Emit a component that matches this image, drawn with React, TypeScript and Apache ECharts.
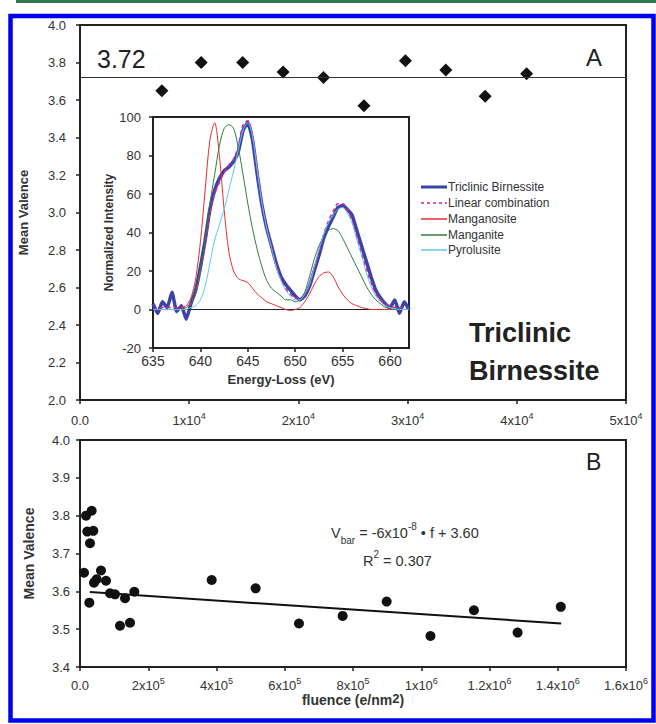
import React, { useEffect, useRef } from 'react';
import * as echarts from 'echarts';

// ---------- Panel A: mean valence vs fluence ----------
const aFluence = [7500, 11100, 14900, 18600, 22300, 26000, 29800, 33500, 37100, 40900];
const aValence = [3.65, 3.80, 3.80, 3.75, 3.72, 3.57, 3.81, 3.76, 3.62, 3.74];
const meanValence = 3.72;
const aTickLabels = [['0.0', ''], ['1x10', '4'], ['2x10', '4'], ['3x10', '4'], ['4x10', '4'], ['5x10', '4']];

// ---------- Inset: EELS spectra ----------
const energy = [635, 635.5, 636, 636.5, 637, 637.5, 638, 638.5, 639, 639.5, 640, 640.5, 641, 641.5, 642, 642.5, 643, 643.5, 644, 644.5, 645, 645.5, 646, 646.5, 647, 647.5, 648, 648.5, 649, 649.5, 650, 650.5, 651, 651.5, 652, 652.5, 653, 653.5, 654, 654.5, 655, 655.5, 656, 656.5, 657, 657.5, 658, 658.5, 659, 659.5, 660, 660.5, 661, 661.5, 662];
const triclinic = [3, -2, 4, 1, 9, -1, 2, -5, 3, 10, 22, 36, 52, 62, 68, 72, 74, 77, 82, 93, 97, 88, 70, 54, 42, 33, 24, 17, 13, 10, 7, 5, 7, 12, 20, 28, 37, 43, 48, 53, 54, 52, 49, 41, 33, 25, 17, 10, 6, 3, 1, 5, -2, 4, 0];
const linearComb = [0, 0.5, 1, 1, 1, 1, 1, 1.5, 3, 9, 20, 34, 50, 60, 66, 71, 75, 78, 85, 96, 98, 90, 72, 55, 42, 32, 23, 16, 11, 8, 6, 6, 8, 13, 21, 30, 39, 46, 51, 55, 55, 52, 46, 38, 29, 21, 14, 8, 5, 3, 2, 1, 1, 0.5, 0];
const manganosite = [0, 0, 0, 0, 0, 0, 0.5, 2, 6, 16, 35, 62, 88, 97, 80, 52, 30, 20, 16, 15, 14, 11, 8, 6, 4, 3, 2, 1, 0, -0.5, 0, 1, 4, 8, 13, 17, 19, 19.5, 17, 12, 8, 5, 3, 2, 1, 0.5, 0, 0, 0, 0, 0, 0, 0, 0, 0];
const manganite = [0, 0, 0, 0, 0, 0, 0, 1, 3, 9, 20, 36, 55, 70, 85, 94, 96, 94, 84, 70, 55, 42, 31, 22, 15, 11, 9, 7, 5, 5, 4, 5, 9, 17, 26, 33, 38, 41, 42, 41, 37, 32, 27, 22, 17, 12, 8, 5, 3, 1, 0.5, 0, 0, 0, 0];
const pyrolusite = [0, 0, 0, 0, 0, 0, 0, 0, 1, 2, 5, 12, 24, 36, 44, 52, 62, 72, 83, 93, 97, 90, 72, 55, 42, 32, 22, 15, 10, 7, 5, 5, 8, 13, 22, 31, 39, 45, 49, 52, 53, 50, 45, 36, 28, 19, 12, 7, 4, 2, 1, 0.5, 0, 0, 0];
const spectraNames = ['Triclinic Birnessite', 'Linear combination', 'Manganosite', 'Manganite', 'Pyrolusite'];

// ---------- Panel B ----------
const bFluence = [11700, 17600, 34200, 21400, 39000, 29300, 27300, 41000, 48800, 61500, 76200, 87900, 102600, 131900, 159200, 117200, 146500, 385900, 514800, 641700, 769700, 898600, 1027000, 1154400, 1282300, 1409000];
const bValence = [3.649, 3.80, 3.813, 3.758, 3.760, 3.727, 3.570, 3.623, 3.632, 3.655, 3.628, 3.595, 3.592, 3.582, 3.599, 3.509, 3.517, 3.630, 3.608, 3.515, 3.535, 3.573, 3.482, 3.550, 3.491, 3.559];
const fitLine = [[29000, 3.598], [1410000, 3.515]];
const bTickLabels = [['0.0', ''], ['2x10', '5'], ['4x10', '5'], ['6x10', '5'], ['8x10', '5'], ['1x10', '6'], ['1.2x10', '6'], ['1.4x10', '6'], ['1.6x10', '6']];

const FONT = 'Liberation Sans, Arial, sans-serif';
const AX = '#222';
const LBL = '#333';

const colors = {
  triclinic: '#3a43a8',
  linear: '#e0208c',
  manganosite: '#e3302c',
  manganite: '#2e7d3c',
  pyrolusite: '#5cc8ee',
};

const supRich = {
  m: { fontSize: 13, lineHeight: 18, color: LBL, fontFamily: FONT },
  e: { fontSize: 9, lineHeight: 10, verticalAlign: 'top', color: LBL, fontFamily: FONT },
};

function axisLineCfg() {
  return { show: true, onZero: false, lineStyle: { color: AX, width: 2 } };
}
function tickCfg() {
  return { show: true, length: 4, lineStyle: { color: AX, width: 1.5 } };
}

export default function App() {
  const ref = useRef<HTMLDivElement>(null);
  useEffect(() => {
    const chart = echarts.init(ref.current!, null, { renderer: 'svg' });
    const pair = (xs: number[], ys: number[]) => xs.map((x, i) => [x, ys[i]]);
    const spectra = [triclinic, linearComb, manganosite, manganite, pyrolusite];
    const specColors = [colors.triclinic, colors.linear, colors.manganosite, colors.manganite, colors.pyrolusite];
    const specWidths = [3.5, 1.5, 1, 1, 1];
    const specTypes: any[] = ['solid', [4, 3], 'solid', 'solid', 'solid'];

    const legendY = [187, 203, 219, 235, 250];
    const legendGraphics: any[] = [];
    spectraNames.forEach((name, i) => {
      legendGraphics.push({
        type: 'line',
        shape: { x1: 421, y1: legendY[i], x2: 447, y2: legendY[i] },
        style: { stroke: specColors[i], lineWidth: i === 0 ? 3 : 1.5, lineDash: i === 1 ? [3, 3] : null },
      });
      legendGraphics.push({
        type: 'text',
        x: 448,
        y: legendY[i],
        style: { text: name, fontSize: 12, fontFamily: FONT, fill: LBL, verticalAlign: 'middle' },
      });
    });

    const option: any = {
      animation: false,
      backgroundColor: '#fff',
      textStyle: { fontFamily: FONT },
      grid: [
        { left: 80, top: 25, width: 546, height: 375, show: true, borderColor: AX, borderWidth: 2, backgroundColor: 'transparent' },
        { left: 153, top: 117, width: 256, height: 231, show: true, borderColor: AX, borderWidth: 2, backgroundColor: '#fff' },
        { left: 80, top: 440, width: 546, height: 227, show: true, borderColor: AX, borderWidth: 2, backgroundColor: 'transparent' },
      ],
      xAxis: [
        {
          gridIndex: 0, type: 'value', min: 0, max: 50000, interval: 10000,
          axisLine: axisLineCfg(), axisTick: tickCfg(), splitLine: { show: false },
          axisLabel: {
            margin: 11, fontSize: 13, color: LBL,
            formatter: (v: number) => {
              const t = aTickLabels[Math.round(v / 10000)];
              if (!t) return '';
              return t[1] ? `{m|${t[0]}}{e|${t[1]}}` : `{m|${t[0]}}`;
            },
            rich: supRich,
          },
        },
        {
          gridIndex: 1, type: 'value', min: 635, max: 662, interval: 5,
          axisLine: axisLineCfg(), axisTick: tickCfg(), splitLine: { show: false },
          axisLabel: { margin: 6, fontSize: 14, color: LBL, fontFamily: FONT, showMaxLabel: false, formatter: (v: number) => (v % 5 === 0 ? String(v) : '') },
          name: 'Energy-Loss (eV)', nameLocation: 'middle', nameGap: 25,
          nameTextStyle: { fontSize: 13, fontWeight: 'bold', color: LBL, fontFamily: FONT, verticalAlign: 'top' },
        },
        {
          gridIndex: 2, type: 'value', min: 0, max: 1600000, interval: 200000,
          axisLine: axisLineCfg(), axisTick: tickCfg(), splitLine: { show: false },
          axisLabel: {
            margin: 9, fontSize: 13, color: LBL,
            formatter: (v: number) => {
              const t = bTickLabels[Math.round(v / 200000)];
              if (!t) return '';
              return t[1] ? `{m|${t[0]}}{e|${t[1]}}` : `{m|${t[0]}}`;
            },
            rich: supRich,
          },
          name: 'fluence (e/nm{s|2})', nameLocation: 'middle', nameGap: 24,
          nameTextStyle: {
            fontSize: 14, fontWeight: 'bold', color: LBL, fontFamily: FONT, verticalAlign: 'top',
            rich: { s: { fontSize: 13, fontWeight: 'bold', color: LBL, fontFamily: FONT, lineHeight: 16, verticalAlign: 'top' } },
          },
        },
      ],
      yAxis: [
        {
          gridIndex: 0, type: 'value', min: 2, max: 4, interval: 0.2,
          axisLine: axisLineCfg(), axisTick: tickCfg(), splitLine: { show: false },
          axisLabel: { margin: 14, fontSize: 13, color: LBL, fontFamily: FONT, formatter: (v: number) => v.toFixed(1) },
          name: 'Mean Valence', nameLocation: 'middle', nameGap: 50, nameRotate: 90,
          nameTextStyle: { fontSize: 13, fontWeight: 'bold', color: LBL, fontFamily: FONT },
        },
        {
          gridIndex: 1, type: 'value', min: -20, max: 100, interval: 20,
          axisLine: axisLineCfg(), axisTick: tickCfg(), splitLine: { show: false },
          axisLabel: { margin: 12, fontSize: 13, color: LBL, fontFamily: FONT },
          name: 'Normalized Intensity', nameLocation: 'middle', nameGap: 36, nameRotate: 90,
          nameTextStyle: { fontSize: 12, fontWeight: 'bold', color: LBL, fontFamily: FONT },
        },
        {
          gridIndex: 2, type: 'value', min: 3.4, max: 4.0, interval: 0.1,
          axisLine: axisLineCfg(), axisTick: tickCfg(), splitLine: { show: false },
          axisLabel: { margin: 10, fontSize: 13, color: LBL, fontFamily: FONT, formatter: (v: number) => v.toFixed(1) },
          name: 'Mean Valence', nameLocation: 'middle', nameGap: 44, nameRotate: 90,
          nameTextStyle: { fontSize: 14, fontWeight: 'bold', color: LBL, fontFamily: FONT },
        },
      ],
      series: [
        {
          type: 'line', xAxisIndex: 0, yAxisIndex: 0, symbol: 'none', silent: true,
          data: [[0, meanValence], [50000, meanValence]],
          lineStyle: { color: '#333', width: 1 },
        },
        {
          type: 'scatter', xAxisIndex: 0, yAxisIndex: 0, symbol: 'diamond', symbolSize: [13, 13],
          itemStyle: { color: '#111', opacity: 1 }, data: pair(aFluence, aValence),
        },
        {
          type: 'line', xAxisIndex: 1, yAxisIndex: 1, symbol: 'none', silent: true,
          data: [[635, 0], [662, 0]], lineStyle: { color: '#222', width: 1 },
        },
        ...spectra.map((ys, i) => ({
          type: 'line', name: spectraNames[i], xAxisIndex: 1, yAxisIndex: 1,
          symbol: 'none', showSymbol: false, smooth: i === 0 ? 0.15 : 0.3,
          data: pair(energy, ys),
          lineStyle: { color: specColors[i], width: specWidths[i], type: specTypes[i] },
          z: i === 0 ? 2 : 3,
        })),
        {
          type: 'line', xAxisIndex: 2, yAxisIndex: 2, symbol: 'none', silent: true,
          data: fitLine, lineStyle: { color: '#111', width: 2 },
        },
        {
          type: 'scatter', xAxisIndex: 2, yAxisIndex: 2, symbol: 'circle', symbolSize: 10,
          itemStyle: { color: '#111', opacity: 1 }, data: pair(bFluence, bValence),
        },
      ],
      graphic: [
        { type: 'rect', shape: { x: 16, y: 0, width: 640, height: 3 }, style: { fill: '#2f7a4c' } },
        { type: 'rect', shape: { x: 10.5, y: 16, width: 643, height: 704.5 }, style: { fill: 'none', stroke: '#0000f0', lineWidth: 4.5 } },
        { type: 'text', x: 97, y: 59, style: { text: '3.72', fontSize: 25, fontFamily: FONT, fill: '#222', verticalAlign: 'middle' } },
        { type: 'text', x: 586, y: 57, style: { text: 'A', fontSize: 24, fontFamily: FONT, fill: '#222', verticalAlign: 'middle' } },
        { type: 'text', x: 586, y: 462, style: { text: 'B', fontSize: 23, fontFamily: FONT, fill: '#222', verticalAlign: 'middle' } },
        { type: 'text', x: 469, y: 333, style: { text: 'Triclinic', fontSize: 27, fontWeight: 'bold', fontFamily: FONT, fill: '#222', verticalAlign: 'middle' } },
        { type: 'text', x: 469, y: 371, style: { text: 'Birnessite', fontSize: 27, fontWeight: 'bold', fontFamily: FONT, fill: '#222', verticalAlign: 'middle' } },
        ...legendGraphics,
        {
          type: 'text', x: 331, y: 533,
          style: {
            text: '{n|V}{sub|bar}{n| = -6x10}{sup|-8}{n| • f + 3.60}',
            verticalAlign: 'middle',
            rich: {
              n: { fontSize: 14.5, fontFamily: FONT, fill: LBL, color: LBL, lineHeight: 24 },
              sub: { fontSize: 10, fontFamily: FONT, fill: LBL, color: LBL, lineHeight: 10, verticalAlign: 'bottom' },
              sup: { fontSize: 10, fontFamily: FONT, fill: LBL, color: LBL, lineHeight: 13, verticalAlign: 'top' },
            },
          },
        },
        {
          type: 'text', x: 363, y: 561,
          style: {
            text: '{n|R}{sup|2}{n| = 0.307}',
            verticalAlign: 'middle',
            rich: {
              n: { fontSize: 14.5, fontFamily: FONT, fill: LBL, color: LBL, lineHeight: 24 },
              sup: { fontSize: 10, fontFamily: FONT, fill: LBL, color: LBL, lineHeight: 13, verticalAlign: 'top' },
            },
          },
        },
      ],
    };
    chart.setOption(option);
    return () => chart.dispose();
  }, []);
  return <div ref={ref} style={{ position: 'absolute', left: 0, top: 0, width: 656, height: 724 }} />;
}
